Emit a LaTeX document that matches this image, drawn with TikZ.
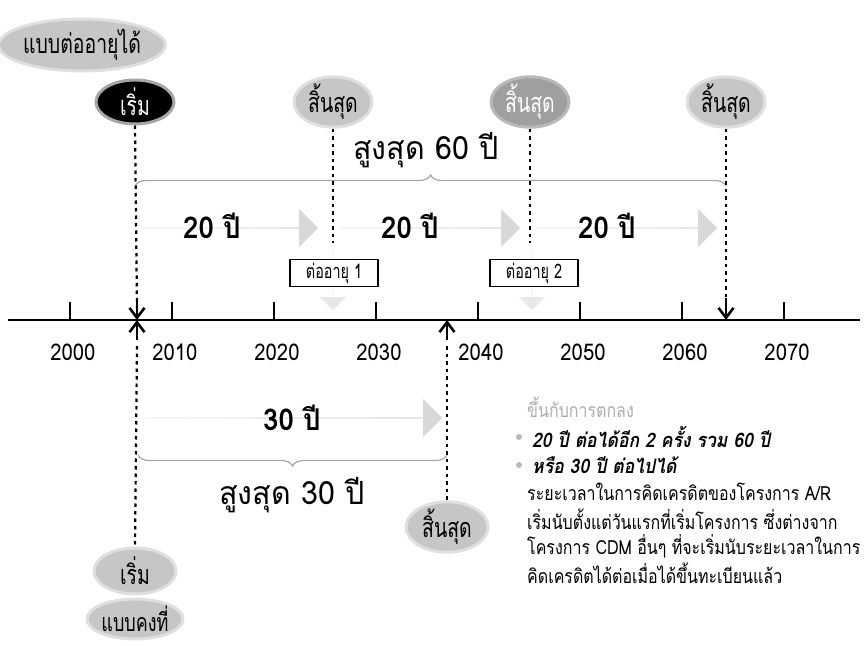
\documentclass[tikz,border=0pt]{standalone}
\usepackage{fontspec}
\setmainfont[Script=Thai]{Loma}
\newfontfamily\thaicond[Script=Thai,FakeStretch=0.92]{Loma}
\newfontfamily\thaimid[Script=Thai,FakeStretch=0.88]{Loma}
\newfontfamily\thainote[Script=Thai,FakeStretch=0.82]{Loma}
\newfontfamily\thaiwide[Script=Thai,FakeStretch=0.95]{Loma}
\newfontfamily\thainarrow[Script=Thai,FakeStretch=0.72]{Loma}
\usetikzlibrary{arrows.meta,decorations.pathreplacing,shapes.geometric,shapes.arrows}
\begin{document}
\begin{tikzpicture}[x=1pt,y=-1pt,
  pill/.style={ellipse, fill=gray!45, draw=gray!25, line width=3pt, inner sep=0pt,
     minimum width=78pt, minimum height=44pt, font=\thainarrow\fontsize{27}{30}\selectfont},
  darkpill/.style={pill, fill=gray!75, draw=gray!55, text=white},
  blackpill/.style={pill, fill=black, draw=gray!70, text=white},
  dotline/.style={line width=2.2pt, dash pattern=on 3.5pt off 4pt},
  bigarrow/.style={single arrow, shading=axis, left color=gray!10, right color=gray!32,
     shading angle=90, draw=none, single arrow head extend=7pt,
     minimum height=#1, minimum width=38pt, inner sep=0pt, anchor=west},
  downarrow/.style={single arrow, fill=gray!18, draw=none, shape border rotate=270,
     single arrow head extend=8pt, minimum height=60pt, minimum width=26pt, inner sep=0pt},
  renewbox/.style={draw=black, line width=1.8pt, fill=white, minimum width=88pt,
     minimum height=27pt, inner sep=0pt, font=\thainarrow\fontsize{20}{22}\selectfont},
  yearlbl/.style={font=\thaimid\fontsize{23}{26}\selectfont},
  period/.style={font=\thaicond\bfseries\fontsize{30}{32}\selectfont},
  maxlbl/.style={font=\thaiwide\fontsize{32}{34}\selectfont},
  bracestyle/.style={draw=gray!70, line width=1.2pt, decorate,
     decoration={brace, amplitude=11pt}},
  tip/.style={-{Straight Barb[length=10pt,width=15pt,line width=2.6pt]}, line width=2.2pt},
  note/.style={font=\thainote\fontsize{19.5}{22}\selectfont, anchor=west, inner sep=0pt},
  notebold/.style={font=\thaimid\bfseries\itshape\fontsize{20}{22}\selectfont, anchor=west, inner sep=0pt},
  dotbullet/.style={circle, fill=gray!55, minimum size=6pt, inner sep=0pt}
]
\useasboundingbox (0,0) rectangle (867,645);

% ---- top: renewable scheme ----
\node[pill, minimum width=152pt, minimum height=52pt] (renew) at (82,45) {แบบต่ออายุได้};
\node[blackpill] (start1) at (135,102) {เริ่ม};
\node[pill] (end1) at (333,102) {สิ้นสุด};
\node[darkpill] (end2) at (530,102) {สิ้นสุด};
\node[pill] (end3) at (726,102) {สิ้นสุด};

% gray period arrows
\node[bigarrow=178pt] (p1) at (140,228) {};
\node[bigarrow=180pt] (p2) at (340,228) {};
\node[bigarrow=182pt] (p3) at (535,228) {};
\node[period] (t1) at (212,226) {20 ปี};
\node[period] (t2) at (410,226) {20 ปี};
\node[period] (t3) at (607,226) {20 ปี};

% downward faint arrows
\node[downarrow] (d1) at (333,280) {};
\node[downarrow] (d2) at (532,280) {};
\node[renewbox] (r1) at (334,273) {ต่ออายุ 1};
\node[renewbox] (r2) at (534,273) {ต่ออายุ 2};

% brace 60
\coordinate (b60a) at (135,186);
\coordinate (b60b) at (726,186);
\draw[bracestyle] (b60a) -- (b60b);
\node[maxlbl] (max60) at (426,150) {สูงสุด 60 ปี};

% ---- axis ----
\coordinate (axL) at (8,320);
\coordinate (axR) at (860,320);
\draw[line width=2.4pt] (axL) -- (axR);
\foreach \yr/\x in {2000/70,2010/172,2020/274,2030/376,2040/478,2050/580,2060/682,2070/784}{
  \coordinate (tk\yr) at (\x,320);
  \draw[line width=2pt] (tk\yr) -- ++(0,-18);
  \node[yearlbl] (y\yr) at (\x+3,352) {\yr};
}

% connector points on axis
\coordinate (s1ax) at (137,320);
\coordinate (e3ax) at (726,320);
\coordinate (e30ax) at (447,320);
\coordinate (e1bot) at (333,243);
\coordinate (e2bot) at (530,243);

\draw[dotline] (start1.south) -- (137,308);
\draw[tip] (137,300) -- (s1ax);
\draw[dotline] (end1.south) -- (e1bot);
\draw[dotline] (end2.south) -- (e2bot);
\draw[dotline] (end3.south) -- (726,306);
\draw[tip] (726,298) -- (e3ax);

% ---- bottom: fixed scheme ----
\node[bigarrow=302pt] (p30) at (140,418) {};
\node[period] (t30) at (292,418) {30 ปี};

\node[pill, minimum width=82pt, minimum height=46pt] (end30) at (447,527) {สิ้นสุด};
\node[pill, minimum width=82pt, minimum height=46pt] (start2) at (135,571) {เริ่ม};
\node[pill, minimum width=96pt, minimum height=40pt, font=\thainarrow\fontsize{25}{28}\selectfont] (fixed) at (135,619) {แบบคงที่};

\draw[tip] (137,340) -- (s1ax);
\draw[dotline] (137,346) -- (start2.north);
\draw[tip] (447,340) -- (e30ax);
\draw[dotline] (447,346) -- (end30.north);

\coordinate (b30a) at (447,455);
\coordinate (b30b) at (138,455);
\draw[bracestyle] (b30a) -- (b30b);
\node[maxlbl] (max30) at (292,495) {สูงสุด 30 ปี};

% ---- notes ----
\node[note, text=gray!65] (n0) at (527,407) {ขึ้นกับการตกลง};
\node[dotbullet] (bu1) at (519,437) {};
\node[notebold] (n1) at (532,437) {20 ปี ต่อได้อีก 2 ครั้ง รวม 60 ปี};
\node[dotbullet] (bu2) at (519,465) {};
\node[notebold] (n2) at (532,465) {หรือ 30 ปี ต่อไปได้};
\node[note] (n3) at (527,492) {ระยะเวลาในการคิดเครดิตของโครงการ A/R};
\node[note] (n4) at (527,519) {เริ่มนับตั้งแต่วันแรกที่เริ่มโครงการ ซึ่งต่างจาก};
\node[note] (n5) at (527,546) {โครงการ CDM อื่นๆ ที่จะเริ่มนับระยะเวลาในการ};
\node[note] (n6) at (527,573) {คิดเครดิตได้ต่อเมื่อได้ขึ้นทะเบียนแล้ว};
\end{tikzpicture}
\end{document}
